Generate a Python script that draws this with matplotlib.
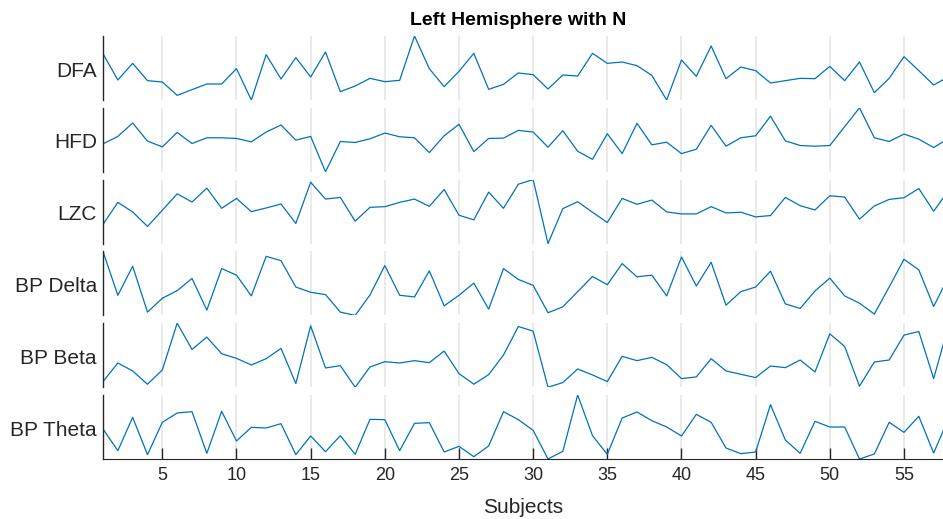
import matplotlib
matplotlib.use('Agg')
import matplotlib.pyplot as plt
import numpy as np

# values, arbitrary units (no y scale is shown)
subjects = np.arange(1, 59)
labels = ['DFA', 'HFD', 'LZC', 'BP Delta', 'BP Beta', 'BP Theta']

dfa = [143, 64, 114, 62, 58, 18, 35, 52, 52, 98, 4, 140, 67, 131, 73, 148, 29, 46, 69, 59,
       63, 196, 98, 44, 90, 144, 36, 51, 85, 80, 37, 79, 76, 144, 114, 118, 107, 78, 4, 124,
       75, 166, 68, 103, 92, 55, 62, 69, 68, 105, 62, 118, 26, 69, 134, 92, 49, 74]
hfd = [89, 111, 151, 97, 80, 123, 90, 107, 107, 105, 95, 124, 145, 100, 111, 6, 96, 93, 104, 121,
       110, 107, 63, 113, 147, 66, 105, 106, 129, 124, 79, 128, 67, 43, 119, 60, 150, 86, 94, 60,
       73, 144, 82, 107, 113, 171, 98, 84, 82, 84, 140, 196, 107, 96, 118, 103, 78, 105]
lzc = [64, 131, 102, 58, 107, 157, 132, 174, 113, 143, 103, 114, 126, 67, 192, 141, 146, 74, 116, 118,
       131, 141, 119, 170, 92, 78, 162, 113, 186, 200, 6, 112, 133, 101, 70, 143, 125, 138, 102, 96,
       96, 118, 99, 101, 87, 91, 146, 121, 108, 151, 147, 80, 120, 140, 145, 173, 104, 167]
bp_delta = [200, 67, 155, 16, 58, 81, 118, 22, 148, 128, 65, 185, 172, 92, 76, 69, 16, 6, 68, 157,
            67, 62, 141, 35, 67, 104, 25, 148, 115, 97, 14, 32, 78, 124, 99, 163, 123, 128, 65, 183,
            95, 167, 37, 78, 92, 140, 41, 27, 80, 119, 65, 43, 10, 92, 176, 144, 33, 123]
bp_beta = [24, 80, 56, 16, 59, 200, 121, 158, 108, 94, 74, 93, 124, 18, 192, 65, 72, 7, 68, 84,
           80, 87, 81, 116, 48, 16, 45, 104, 190, 176, 7, 21, 62, 44, 24, 100, 87, 97, 75, 33,
           38, 93, 56, 46, 36, 71, 66, 89, 53, 168, 130, 10, 83, 89, 164, 175, 33, 193]
bp_theta = [97, 32, 132, 20, 117, 145, 149, 24, 150, 61, 102, 100, 113, 20, 76, 29, 77, 21, 126, 125,
            32, 114, 116, 28, 45, 14, 46, 149, 125, 93, 7, 30, 199, 77, 21, 130, 148, 122, 103, 76,
            141, 117, 40, 23, 28, 170, 64, 24, 120, 103, 103, 7, 22, 117, 87, 135, 25, 128]

series = [dfa, hfd, lzc, bp_delta, bp_beta, bp_theta]
xticks = [5, 10, 15, 20, 25, 30, 35, 40, 45, 50, 55]

plt.rcParams['font.family'] = ['Liberation Sans', 'DejaVu Sans']

W, H = 943, 519
fig = plt.figure(figsize=(W / 100, H / 100), dpi=100)

left, right = 103, 943
top0, pitch, height = 36, 71.8, 64
axes = []
for i, (name, vals) in enumerate(zip(labels, series)):
    top = top0 + pitch * i
    ax = fig.add_axes([left / W, 1 - (top + height) / H, (right - left) / W, height / H])
    ax.plot(subjects, vals, color='#0072BD', lw=0.9, clip_on=True)
    ax.set_xlim(1, 57.63)
    ax.set_ylim(min(vals), max(vals))
    ax.set_xticks(xticks)
    ax.set_yticks([])
    ax.grid(axis='x', color='#e6e6e6', lw=1.2)
    ax.set_axisbelow(True)
    for s in ['top', 'right']:
        ax.spines[s].set_visible(False)
    ax.spines['left'].set_color('#262626')
    ax.spines['left'].set_linewidth(1.0)
    ax.set_ylabel(name, rotation=0, ha='right', va='center', fontsize=15,
                  color='#262626')
    ax.yaxis.set_label_coords(-6 / (right - left), 0.45)
    if i < len(labels) - 1:
        ax.spines['bottom'].set_visible(False)
        ax.tick_params(axis='x', length=0, labelbottom=False)
    else:
        ax.spines['bottom'].set_color('#262626')
        ax.tick_params(axis='x', direction='in', length=8, width=1.0,
                       color='#262626', labelsize=13, labelcolor='#262626', pad=6)
        ax.set_xlabel('Subjects', fontsize=15, color='#262626', labelpad=10)
    axes.append(ax)

axes[0].set_title('Left Hemisphere with N', fontsize=14, fontweight='bold',
                  pad=8, x=0.494)

fig.savefig('out.png', dpi=100)
